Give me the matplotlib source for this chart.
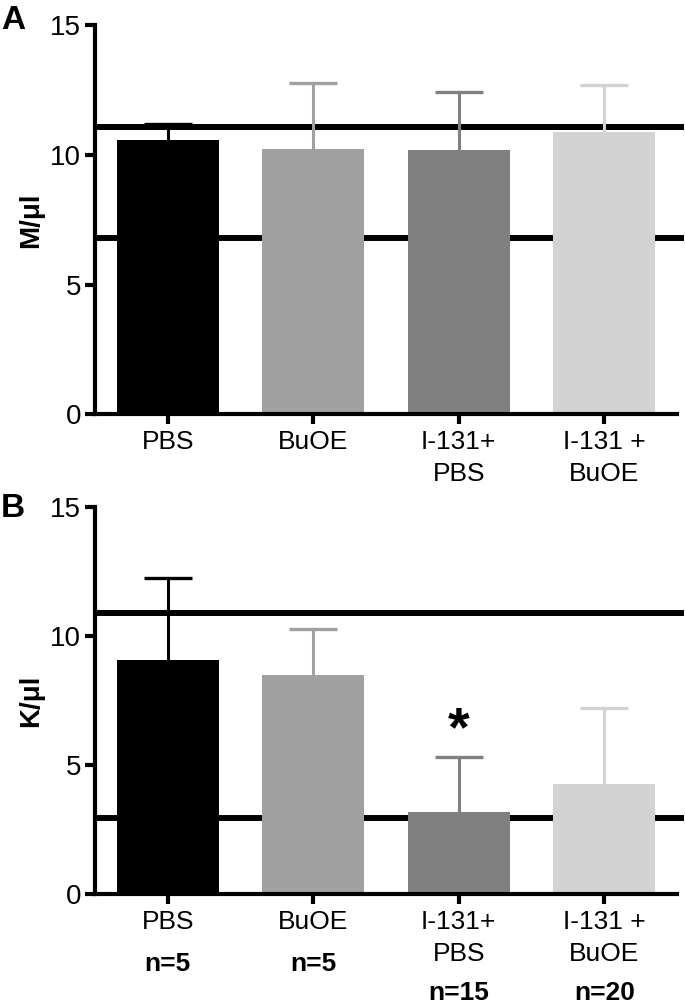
import numpy as np
import matplotlib
matplotlib.use('Agg')
import matplotlib.pyplot as plt

plt.rcParams['font.family'] = ['Liberation Sans', 'DejaVu Sans']

groups = ['PBS', 'BuOE', 'I-131+\nPBS', 'I-131 +\nBuOE']
n_labels = ['n=5', 'n=5', 'n=15', 'n=20']
colors = ['#000000', '#a0a0a0', '#808080', '#d3d3d3']

# panel A: M/ul
a_mean = [10.57, 10.22, 10.18, 10.89]
a_err = [0.63, 2.57, 2.26, 1.80]
a_ref = [11.08, 6.81]

# panel B: K/ul
b_mean = [9.07, 8.50, 3.20, 4.28]
b_err = [3.18, 1.76, 2.12, 2.92]
b_ref = [10.91, 2.97]


def draw_panel(ax, mean, err, ref):
    x = np.arange(len(groups))
    # reference range lines, behind the bars
    for r in ref:
        ax.plot([-0.5, 3.55], [r, r], color='black', lw=4.3, zorder=1,
                clip_on=False, solid_capstyle='butt')
    ax.bar(x, mean, width=0.7, color=colors, zorder=2)
    # upper error bars only
    for i in range(len(x)):
        ax.vlines(x[i], mean[i], mean[i] + err[i], color=colors[i],
                  lw=2.2, zorder=3)
        ax.hlines(mean[i] + err[i], x[i] - 0.165, x[i] + 0.165,
                  color=colors[i], lw=2.4, zorder=3)
    ax.set_xlim(-0.5, 3.5)
    ax.set_ylim(0, 15)
    ax.set_yticks([0, 5, 10, 15])
    ax.set_xticks(x)
    ax.set_xticklabels(groups, fontsize=19, linespacing=1.45)
    ax.tick_params(axis='y', labelsize=20, width=3, length=7, pad=3)
    ax.tick_params(axis='x', width=3, length=7, pad=4)
    for s in ['top', 'right']:
        ax.spines[s].set_visible(False)
    for s in ['left', 'bottom']:
        ax.spines[s].set_linewidth(3)


fig = plt.figure(figsize=(6.85, 10.07), dpi=100)
axA = fig.add_axes([0.1387, 0.5885, 0.8496, 0.3864])
axB = fig.add_axes([0.1387, 0.1119, 0.8496, 0.3846])

draw_panel(axA, a_mean, a_err, a_ref)
draw_panel(axB, b_mean, b_err, b_ref)

fig.text(0.045, 0.5885 + 0.3864 / 2, 'M/μl', rotation=90, ha='center',
         va='center', fontsize=20, fontweight='bold')
fig.text(0.045, 0.1119 + 0.3846 / 2, 'K/μl', rotation=90, ha='center',
         va='center', fontsize=20, fontweight='bold')

# n per group under the tick labels of panel B
for i, lab in enumerate(n_labels):
    off = 50 if '\n' not in groups[i] else 71
    axB.annotate(lab, xy=(i, 0), xycoords=('data', 'axes fraction'),
                 xytext=(0, -off), textcoords='offset points',
                 ha='center', va='center', fontsize=19, fontweight='bold')

# significance mark
axB.text(2, 6.3, '*', ha='center', va='center', fontsize=40,
         fontweight='bold')

fig.text(0.001, 0.995, 'A', fontsize=24, fontweight='bold', va='top')
fig.text(0.001, 0.510, 'B', fontsize=24, fontweight='bold', va='top')

fig.savefig('out.png', dpi=100)
